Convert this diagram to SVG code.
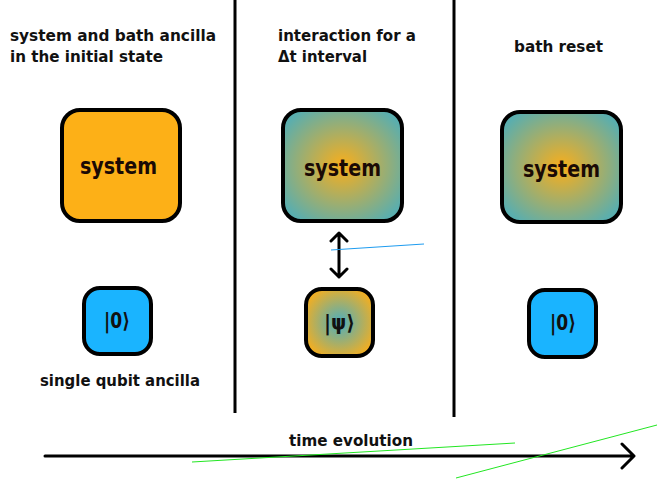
<svg xmlns="http://www.w3.org/2000/svg" width="657" height="481" viewBox="0 0 657 481">
<style>
.t{font-family:"DejaVu Sans",sans-serif;font-weight:bold;font-size:15.5px;fill:#111}
.big{font-family:"DejaVu Sans",sans-serif;font-weight:bold;font-size:23px;fill:#1a0a05}
.ket{font-family:"DejaVu Sans",sans-serif;font-weight:bold;font-size:21px;fill:#111}
.box{stroke:#000;stroke-width:4}
.con{stroke:#000;fill:none;stroke-linecap:round;stroke-linejoin:round}
</style>
<defs>
<radialGradient id="sys" cx="0.5" cy="0.5" r="0.6">
<stop offset="0" stop-color="#F9AE1B"/>
<stop offset="1" stop-color="#5AAEAE"/>
</radialGradient>
<radialGradient id="anc" cx="0.5" cy="0.5" r="0.6">
<stop offset="0" stop-color="#4BAFC0"/>
<stop offset="1" stop-color="#F9AE1B"/>
</radialGradient>
</defs>
<rect width="657" height="481" fill="#fff"/>
<g id="dividers">
<line x1="235" y1="0" x2="235" y2="413" stroke="#000" stroke-width="3"/>
<line x1="454" y1="0" x2="454" y2="417" stroke="#000" stroke-width="3"/>
</g>
<g id="labels">
<text class="t" x="10" y="41" textLength="206" lengthAdjust="spacingAndGlyphs">system and bath ancilla</text>
<text class="t" x="10" y="62" textLength="153" lengthAdjust="spacingAndGlyphs">in the initial state</text>
<text class="t" x="278" y="41" textLength="138" lengthAdjust="spacingAndGlyphs">interaction for a</text>
<text class="t" x="278" y="62" textLength="89" lengthAdjust="spacingAndGlyphs">Δt interval</text>
<text class="t" x="514" y="52" textLength="89" lengthAdjust="spacingAndGlyphs">bath reset</text>
<text class="t" x="40" y="386" textLength="160" lengthAdjust="spacingAndGlyphs">single qubit ancilla</text>
</g>
<g id="sys1">
<rect class="box" x="62" y="110" width="118" height="111" rx="18" fill="#FDB017"/>
<text class="big" x="80" y="174" textLength="77" lengthAdjust="spacingAndGlyphs">system</text>
</g>
<g id="sys2">
<rect class="box" x="283" y="110" width="119" height="111" rx="18" fill="url(#sys)"/>
<text class="big" x="304" y="176" textLength="77" lengthAdjust="spacingAndGlyphs">system</text>
</g>
<g id="sys3">
<rect class="box" x="502" y="112" width="119" height="110" rx="18" fill="url(#sys)"/>
<text class="big" x="523" y="177" textLength="77" lengthAdjust="spacingAndGlyphs">system</text>
</g>
<g id="anc1">
<rect class="box" x="84" y="288" width="67" height="66" rx="16" fill="#1AB4FF"/>
<text class="ket" x="104" y="328" textLength="26" lengthAdjust="spacingAndGlyphs">|0⟩</text>
</g>
<g id="anc2">
<rect class="box" x="306" y="289" width="67" height="67" rx="16" fill="url(#anc)"/>
<text class="ket" x="324" y="330" textLength="31" lengthAdjust="spacingAndGlyphs">|ψ⟩</text>
</g>
<g id="anc3">
<rect class="box" x="529" y="290" width="67" height="67" rx="16" fill="#1AB4FF"/>
<text class="ket" x="550" y="330" textLength="26" lengthAdjust="spacingAndGlyphs">|0⟩</text>
</g>
<g id="connectors">
<path class="con" stroke-width="3" d="M339 233V277M331 241L339 233L347 241M331 269L339 277L347 269"/>
<line x1="331" y1="250" x2="424" y2="244" stroke="#1E9CF0" stroke-width="1"/>
<path class="con" stroke-width="3" d="M45 456H633M622 444L634 456L622 468"/>
<text class="t" x="289" y="446" textLength="124" lengthAdjust="spacingAndGlyphs">time evolution</text>
<line x1="192" y1="462" x2="515" y2="443" stroke="#22E622" stroke-width="1"/>
<line x1="456" y1="478" x2="657" y2="425" stroke="#22E622" stroke-width="1"/>
</g>
</svg>
